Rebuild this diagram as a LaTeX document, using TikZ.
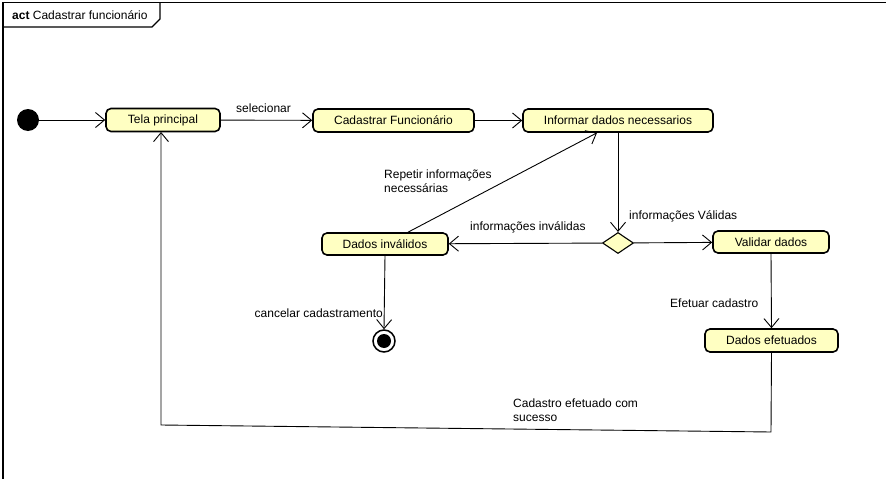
\documentclass[tikz,border=0pt]{standalone}
\usepackage{fontspec}
\setmainfont{Liberation Sans}
\usetikzlibrary{arrows.meta,shapes.geometric}
\definecolor{actfill}{RGB}{255,255,194}
\tikzset{
  every node/.style={font=\fontsize{12}{14}\selectfont, inner sep=0pt},
  action/.style={draw=black, line width=1.6pt, fill=actfill, rounded corners=5pt, rectangle, minimum height=23pt},
  decision/.style={draw=black, line width=1.1pt, fill=actfill, diamond, aspect=1.5, minimum width=31pt, minimum height=21pt},
  flow/.style={draw=black, line width=0.9pt, -{Straight Barb[length=9pt,width=15pt,line width=0.9pt]}},
  lbl/.style={align=left},
}
\begin{document}
\begin{tikzpicture}[x=1pt,y=-1pt]
\useasboundingbox (0,0) rectangle (887,479);
\fill[white] (0,0) rectangle (887,479);
% frame
\draw[line width=1.4pt] (3,479) -- (3,2.5) -- (886,2.5);
\draw[line width=1.1pt] (3,27) -- (152,27) -- (160,19) -- (160,2.5);
\node[anchor=west] (title) at (12,15) {\textbf{act} Cadastrar funcionário};

% nodes
\node[circle, fill=black, minimum size=22pt] (init) at (28,120) {};
\node[action, minimum width=114pt] (tela) at (163,120) {Tela principal};
\node[action, minimum width=161pt] (cad) at (393.5,120.5) {Cadastrar Funcionário};
\node[action, minimum width=190pt] (inf) at (618,120.5) {Informar dados necessarios};
\node[decision] (dec) at (618,243) {};
\node[action, minimum width=126pt, minimum height=22pt] (inv) at (385,244) {Dados inválidos};
\node[action, minimum width=116pt, minimum height=22pt] (val) at (771,242) {Validar dados};
\node[action, minimum width=133pt] (efe) at (771.5,340.5) {Dados efetuados};
\node[circle, draw=black, line width=1.5pt, fill=white, minimum size=22pt] (fin) at (384,341) {};
\node[circle, fill=black, minimum size=14pt] (fininner) at (fin.center) {};

% coordinates
\coordinate (br) at (771,432);
\coordinate (bl) at (161,425);
\coordinate (telab) at (161,132);

% edges
\draw[flow] (init) -- (tela);
\draw[flow] (tela) -- (cad);
\draw[flow] (cad) -- (inf);
\draw[flow] (inf.south) -- (dec.north);
\draw[flow] (dec) -- (inv);
\draw[flow] (dec) -- (val);
\draw[flow] (inv.north -| 408,0) -- (inf.south -| 597,0);
\draw[flow] (inv.south) -- (fin.north);
\draw[flow] (val.south) -- (efe.north);
\draw[flow] (efe.south) -- (br) -- (bl) -- (telab);

% labels
\node[anchor=west] (l1) at (236,108) {selecionar};
\node[anchor=west, lbl] (l2) at (384,181) {Repetir informações\\necessárias};
\node[anchor=west] (l3) at (470,227) {informações inválidas};
\node[anchor=west] (l4) at (629,216) {informações Válidas};
\node[anchor=west] (l5) at (670,303) {Efetuar cadastro};
\node[anchor=east] (l6) at (383,313) {cancelar cadastramento};
\node[anchor=west, lbl] (l7) at (513,410) {Cadastro efetuado com\\sucesso};
\end{tikzpicture}
\end{document}
